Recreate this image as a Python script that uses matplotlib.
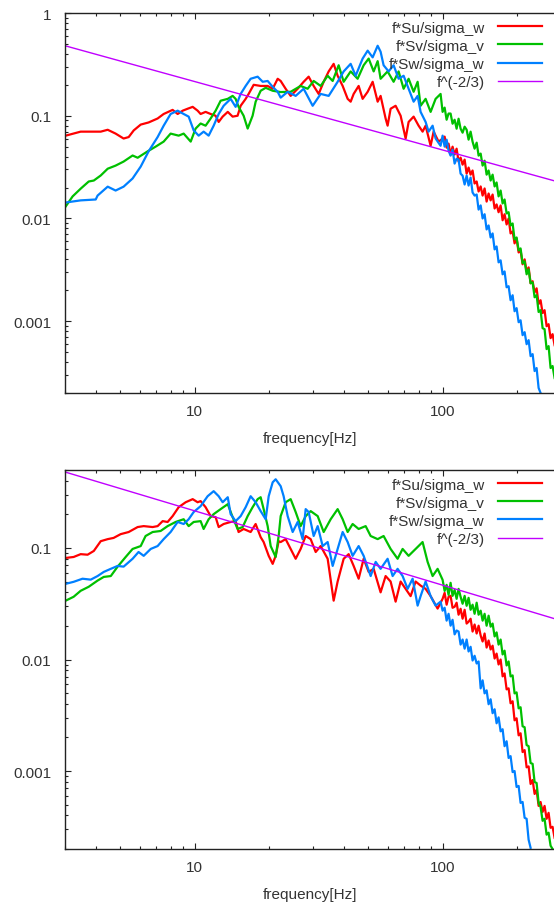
import matplotlib
matplotlib.use("Agg")
import matplotlib.pyplot as plt
from matplotlib.ticker import LogLocator, NullFormatter, FixedLocator, FixedFormatter

plt.rcParams['font.family'] = ['Liberation Sans', 'DejaVu Sans']

# ---------------- Top panel data (f < 100 Hz) ----------------
top_u_f = [3.02, 3.47, 3.92, 4.18, 4.46, 4.80, 5.17, 5.42, 5.68, 6.06, 6.52, 7.09, 7.50, 8.15, 8.54, 8.95,
           9.37, 9.82, 10.28, 10.57, 11.07, 11.60, 12.15, 12.50, 12.97, 13.60, 14.23, 14.90, 15.33, 16.06,
           16.51, 17.30, 18.46, 19.70, 20.64, 21.62, 22.23, 23.28, 24.39, 26.03, 27.52, 28.83, 30.20, 31.64,
           33.14, 34.72, 36.36, 37.73, 39.53, 41.41, 42.58, 43.78, 45.86, 47.59, 49.86, 52.23, 54.71, 56.23,
           58.91, 60.01, 61.71, 64.64, 67.72, 70.94, 72.94, 76.41, 80.03, 83.05, 85.41, 89.47, 92.0, 96.34]
top_u_v = [0.064, 0.070, 0.070, 0.070, 0.073, 0.067, 0.060, 0.062, 0.072, 0.082, 0.086, 0.094, 0.104, 0.114,
           0.104, 0.112, 0.117, 0.122, 0.112, 0.104, 0.109, 0.104, 0.100, 0.087, 0.098, 0.109, 0.098, 0.100,
           0.125, 0.146, 0.163, 0.200, 0.195, 0.195, 0.183, 0.229, 0.218, 0.183, 0.156, 0.183, 0.214, 0.240,
           0.195, 0.163, 0.214, 0.270, 0.320, 0.245, 0.195, 0.146, 0.137, 0.163, 0.195, 0.146, 0.171, 0.214,
           0.137, 0.156, 0.094, 0.080, 0.117, 0.125, 0.100, 0.060, 0.087, 0.098, 0.080, 0.070, 0.080, 0.051,
           0.070, 0.056]

top_v_f = [3.02, 3.22, 3.47, 3.74, 3.92, 4.18, 4.46, 4.80, 5.17, 5.62, 5.89, 6.46, 6.96, 7.50, 8.00, 8.62,
           9.03, 9.64, 10.09, 10.57, 11.07, 11.60, 12.15, 12.73, 13.60, 14.23, 14.63, 15.04, 15.76, 16.36,
           17.13, 17.62, 18.46, 19.34, 20.64, 22.23, 24.39, 26.76, 28.56, 30.20, 32.23, 34.39, 36.03, 38.09,
           39.90, 42.58, 45.43, 48.04, 50.33, 52.72, 54.71, 56.23, 60.01, 63.45, 66.47, 69.63, 72.94, 76.41,
           79.30, 81.53, 85.41, 89.47, 93.72, 98.15]
top_v_v = [0.0131, 0.0164, 0.0195, 0.0229, 0.0234, 0.0262, 0.0305, 0.0327, 0.0358, 0.041, 0.039, 0.045,
           0.050, 0.056, 0.067, 0.064, 0.067, 0.056, 0.075, 0.084, 0.080, 0.094, 0.112, 0.140, 0.146, 0.156,
           0.146, 0.122, 0.100, 0.075, 0.100, 0.137, 0.175, 0.187, 0.175, 0.170, 0.171, 0.195, 0.183, 0.218,
           0.195, 0.245, 0.218, 0.310, 0.214, 0.270, 0.229, 0.310, 0.360, 0.270, 0.340, 0.229, 0.270, 0.214,
           0.270, 0.183, 0.229, 0.171, 0.214, 0.125, 0.146, 0.109, 0.146, 0.163]

top_w_f = [3.02, 3.47, 3.99, 4.06, 4.46, 4.80, 5.17, 5.62, 6.06, 6.52, 7.09, 7.50, 8.00, 8.54, 9.03, 9.46,
           9.91, 10.38, 10.87, 11.39, 11.93, 12.50, 13.09, 13.97, 14.63, 15.33, 16.06, 16.82, 17.95, 18.81,
           19.70, 20.64, 21.62, 22.23, 23.72, 25.55, 27.52, 29.92, 32.23, 34.72, 37.73, 39.90, 42.58, 44.60,
           47.59, 49.86, 52.23, 54.71, 56.23, 57.82, 60.57, 63.45, 66.47, 69.63, 72.94, 76.41, 79.30, 81.53,
           85.41, 87.82, 91.14, 93.72, 98.15]
top_w_v = [0.0143, 0.0150, 0.0153, 0.0167, 0.0204, 0.0187, 0.0204, 0.0245, 0.032, 0.045, 0.062, 0.080,
           0.104, 0.112, 0.104, 0.098, 0.072, 0.064, 0.070, 0.064, 0.080, 0.104, 0.125, 0.146, 0.122, 0.163,
           0.195, 0.229, 0.240, 0.214, 0.218, 0.191, 0.171, 0.150, 0.171, 0.156, 0.183, 0.125, 0.163, 0.156,
           0.214, 0.270, 0.320, 0.245, 0.360, 0.430, 0.370, 0.480, 0.420, 0.310, 0.270, 0.310, 0.229, 0.245,
           0.183, 0.137, 0.156, 0.109, 0.087, 0.070, 0.080, 0.060, 0.051]

# ---------------- Bottom panel data (f < 100 Hz) ----------------
bot_u_f = [3.02, 3.25, 3.47, 3.70, 3.92, 4.18, 4.46, 4.71, 5.03, 5.42, 5.89, 6.23, 6.77, 7.09, 7.43, 7.78,
           8.15, 8.62, 9.20, 9.82, 10.28, 10.57, 11.07, 11.60, 12.15, 12.50, 13.09, 13.97, 14.63, 15.04, 15.76,
           16.82, 17.62, 18.46, 18.98, 19.89, 20.64, 21.22, 21.82, 22.23, 23.28, 24.39, 25.55, 26.76, 28.04,
           29.37, 30.77, 32.23, 34.39, 36.36, 37.73, 39.90, 41.80, 43.78, 45.86, 48.04, 50.33, 52.72, 56.23,
           58.91, 61.71, 64.64, 67.72, 70.94, 74.30, 77.84, 81.53, 85.41, 89.47, 95.47]
bot_u_v = [0.0814, 0.083, 0.088, 0.087, 0.094, 0.115, 0.120, 0.123, 0.133, 0.139, 0.154, 0.157, 0.154, 0.157,
           0.174, 0.171, 0.193, 0.232, 0.257, 0.274, 0.257, 0.263, 0.232, 0.193, 0.189, 0.154, 0.164, 0.171,
           0.174, 0.139, 0.148, 0.139, 0.164, 0.125, 0.113, 0.085, 0.072, 0.085, 0.115, 0.113, 0.120, 0.098,
           0.080, 0.098, 0.128, 0.120, 0.092, 0.104, 0.080, 0.0337, 0.050, 0.080, 0.088, 0.069, 0.053, 0.080,
           0.061, 0.065, 0.040, 0.056, 0.050, 0.033, 0.050, 0.043, 0.037, 0.050, 0.046, 0.043, 0.037, 0.0286]

bot_v_f = [3.02, 3.25, 3.47, 3.74, 4.06, 4.30, 4.59, 4.89, 5.27, 5.62, 6.06, 6.34, 6.77, 7.29, 7.78, 8.38,
           9.03, 9.46, 9.91, 10.57, 10.87, 11.39, 11.93, 12.73, 13.60, 14.23, 14.90, 15.62, 16.36, 17.13,
           17.95, 18.46, 18.98, 19.70, 20.26, 21.22, 21.82, 22.23, 23.28, 24.39, 25.55, 26.76, 28.04, 29.37,
           31.35, 33.14, 35.37, 37.73, 39.53, 41.41, 43.37, 45.86, 48.94, 51.27, 54.71, 57.82, 61.71, 65.85,
           68.98, 72.94, 77.84, 83.05, 87.01, 91.14, 95.47]
bot_v_v = [0.0337, 0.0365, 0.0413, 0.0449, 0.051, 0.055, 0.056, 0.068, 0.083, 0.098, 0.104, 0.128, 0.139,
           0.142, 0.157, 0.171, 0.181, 0.157, 0.171, 0.174, 0.148, 0.181, 0.201, 0.223, 0.247, 0.189, 0.148,
           0.154, 0.193, 0.232, 0.274, 0.285, 0.223, 0.157, 0.104, 0.083, 0.128, 0.193, 0.257, 0.274, 0.210,
           0.157, 0.193, 0.214, 0.193, 0.139, 0.181, 0.223, 0.181, 0.139, 0.164, 0.148, 0.157, 0.128, 0.120,
           0.128, 0.098, 0.080, 0.098, 0.085, 0.098, 0.113, 0.075, 0.056, 0.065]

bot_w_f = [3.02, 3.25, 3.53, 3.81, 4.06, 4.30, 4.59, 4.89, 5.17, 5.62, 5.94, 6.23, 6.65, 7.09, 7.50, 8.00,
           8.54, 9.03, 9.46, 9.91, 10.57, 11.28, 11.93, 12.50, 12.97, 13.60, 13.97, 14.63, 15.33, 16.06,
           16.82, 17.62, 18.46, 19.34, 19.89, 20.64, 21.22, 22.23, 22.85, 23.72, 24.85, 26.03, 27.26, 28.04,
           28.83, 30.20, 31.35, 32.83, 34.39, 36.03, 37.73, 39.53, 41.41, 43.37, 45.86, 48.04, 51.27, 53.71,
           56.23, 60.01, 62.87, 65.85, 68.98, 72.27, 75.69, 79.30, 81.53, 85.41, 89.47, 93.72, 98.15]
bot_w_v = [0.0477, 0.0497, 0.053, 0.052, 0.056, 0.061, 0.065, 0.069, 0.068, 0.080, 0.092, 0.085, 0.098,
           0.104, 0.120, 0.139, 0.171, 0.164, 0.181, 0.210, 0.237, 0.291, 0.323, 0.291, 0.257, 0.285, 0.201,
           0.174, 0.193, 0.232, 0.291, 0.257, 0.214, 0.181, 0.291, 0.388, 0.413, 0.358, 0.291, 0.193, 0.139,
           0.171, 0.120, 0.223, 0.210, 0.128, 0.157, 0.104, 0.113, 0.069, 0.098, 0.139, 0.113, 0.085, 0.104,
           0.085, 0.056, 0.075, 0.065, 0.080, 0.056, 0.065, 0.056, 0.043, 0.053, 0.0304, 0.037, 0.050, 0.037,
           0.0304, 0.033]

# ---------------- High-frequency part (f >= 100 Hz), dense readings ----------------
hf_freq = [100.0, 101.9, 103.8, 105.7, 107.7, 109.7, 111.8, 113.9, 116.0, 118.2, 120.4, 122.7, 125.0, 127.3,
           129.7, 132.1, 134.6, 137.2, 139.7, 142.4, 145.0, 147.7, 150.5, 153.3, 156.2, 159.1, 162.1, 165.1,
           168.2, 171.4, 174.6, 177.8, 181.2, 184.6, 188.0, 191.6, 195.1, 198.8, 202.6, 206.3, 210.2, 214.2,
           218.2, 222.3, 226.4, 230.7, 235.0, 239.4, 243.9, 248.4, 253.1, 257.8, 262.7, 267.6, 272.6, 277.7,
           282.9]

top_u_hf = [0.0598, 0.0626, 0.0489, 0.0535, 0.0419, 0.0500, 0.0419, 0.0478, 0.0358, 0.0391, 0.0334, 0.0374,
            0.0273, 0.0313, 0.0267, 0.0293, 0.0219, 0.0229, 0.0183, 0.0205, 0.0167, 0.0196, 0.0146, 0.0175,
            0.0150, 0.0171, 0.0125, 0.0137, 0.0115, 0.0134, 0.0096, 0.0110, 0.00874, 0.0100, 0.00715, 0.00748,
            0.00572, 0.00639, 0.00467, 0.00489, 0.00358, 0.00400, 0.00305, 0.00334, 0.00234, 0.00245, 0.00191,
            0.00209, 0.00147, 0.00160, 0.00120, 0.00128, 0.000894, 0.000935, 0.000684, 0.000748, 0.000584]
top_v_hf = [0.109, 0.120, 0.0914, 0.105, 0.105, 0.0836, 0.0914, 0.0748, 0.0935, 0.0748, 0.0684, 0.0782,
            0.0731, 0.0585, 0.0700, 0.0559, 0.0478, 0.0547, 0.0409, 0.0428, 0.0327, 0.0365, 0.0267, 0.0293,
            0.0234, 0.0267, 0.0205, 0.0224, 0.0164, 0.0187, 0.0140, 0.0153, 0.0112, 0.0115, 0.00855, 0.00894,
            0.00625, 0.00653, 0.00489, 0.00511, 0.00366, 0.00383, 0.00286, 0.00320, 0.00234, 0.00239, 0.00171,
            0.00179, 0.00123, 0.00128, 0.000855, 0.000836, 0.000535, 0.000572, 0.000350, 0.000366, 0.000280]
top_w_hf = [0.0640, 0.0500, 0.0585, 0.0457, 0.0409, 0.0467, 0.0342, 0.0382, 0.0374, 0.0273, 0.0261, 0.0214,
            0.0261, 0.0209, 0.0250, 0.0179, 0.0167, 0.0171, 0.0122, 0.0134, 0.0100, 0.0110, 0.00782, 0.00855,
            0.00653, 0.00715, 0.00500, 0.00534, 0.00374, 0.00391, 0.00286, 0.00305, 0.00214, 0.00219, 0.00160,
            0.00179, 0.00125, 0.00134, 0.000978, 0.00102, 0.000731, 0.000782, 0.000597, 0.000654, 0.000457,
            0.000478, 0.000327, 0.000350, 0.000224, 0.000200]

bot_u_hf = [0.0350, 0.0396, 0.0310, 0.0365, 0.0372, 0.0291, 0.0297, 0.0323, 0.0252, 0.0285, 0.0232, 0.0279,
            0.0210, 0.0218, 0.0232, 0.0178, 0.0206, 0.0171, 0.0201, 0.0164, 0.0145, 0.0171, 0.0128, 0.0148,
            0.0123, 0.0133, 0.0102, 0.0113, 0.00902, 0.0100, 0.00706, 0.00750, 0.00540, 0.00551, 0.00405,
            0.00422, 0.00285, 0.00297, 0.00209, 0.00218, 0.00148, 0.00154, 0.00108, 0.00110, 0.000765,
            0.000831, 0.000623, 0.000677, 0.000487, 0.000528, 0.000430, 0.000487, 0.000373, 0.000422,
            0.000310, 0.000316, 0.000252]
bot_v_hf = [0.0518, 0.0412, 0.0467, 0.0380, 0.0487, 0.0372, 0.0421, 0.0350, 0.0430, 0.0365, 0.0316, 0.0372,
            0.0303, 0.0357, 0.0279, 0.0310, 0.0257, 0.0323, 0.0252, 0.0274, 0.0223, 0.0257, 0.0201, 0.0247,
            0.0197, 0.0210, 0.0161, 0.0175, 0.0136, 0.0151, 0.0111, 0.0120, 0.00884, 0.00960, 0.00706, 0.00720,
            0.00497, 0.00507, 0.00365, 0.00373, 0.00252, 0.00247, 0.00171, 0.00167, 0.00118, 0.00116, 0.000797,
            0.000781, 0.000518, 0.000477, 0.000358, 0.000373, 0.000269, 0.000280, 0.000214, 0.000200]
bot_w_hf = [0.0274, 0.0291, 0.0223, 0.0257, 0.0201, 0.0227, 0.0168, 0.0182, 0.0178, 0.0136, 0.0151, 0.0125,
            0.0151, 0.0118, 0.0130, 0.00979, 0.0108, 0.00921, 0.00960, 0.00551, 0.00650, 0.00497, 0.00529,
            0.00397, 0.00440, 0.00330, 0.00358, 0.00268, 0.00303, 0.00227, 0.00237, 0.00167, 0.00185, 0.00131,
            0.00136, 0.000979, 0.00100, 0.000720, 0.000735, 0.000518, 0.000528, 0.000381, 0.000373, 0.000242,
            0.000205]

# reference line f^(-2/3): end points
ref_f = [3.0, 283.0]
ref_v = [0.48, 0.0232]

labels = ["f*Su/sigma_w", "f*Sv/sigma_v", "f*Sw/sigma_w", "f^(-2/3)"]
colors = ["#ff0000", "#00c000", "#0080ff", "#c000ff"]
x_ticks = [10, 100]
x_ticklabels = ["10", "100"]


def series(lf, lv, hv):
    return lf + hf_freq[:len(hv)], lv + hv


W, H = 554, 904
fig = plt.figure(figsize=(W / 100, H / 100), dpi=100)


def make_axes(top_px, bot_px):
    left = 65 / W
    right = 555 / W
    return fig.add_axes([left, 1 - bot_px / H, right - left, (bot_px - top_px) / H])


panels = [
    (make_axes(14, 394),
     series(top_u_f, top_u_v, top_u_hf), series(top_v_f, top_v_v, top_v_hf), series(top_w_f, top_w_v, top_w_hf),
     (2e-4, 1.0), [1, 0.1, 0.01, 0.001], ["1", "0.1", "0.01", "0.001"]),
    (make_axes(471, 850),
     series(bot_u_f, bot_u_v, bot_u_hf), series(bot_v_f, bot_v_v, bot_v_hf), series(bot_w_f, bot_w_v, bot_w_hf),
     (2e-4, 0.5), [0.1, 0.01, 0.001], ["0.1", "0.01", "0.001"]),
]

txt_color = "#333333"
fs = 11
for ax, su, sv, sw, ylim, yt, ytl in panels:
    ax.plot(su[0], su[1], color=colors[0], lw=1.6, label=labels[0])
    ax.plot(sv[0], sv[1], color=colors[1], lw=1.6, label=labels[1])
    ax.plot(sw[0], sw[1], color=colors[2], lw=1.6, label=labels[2])
    ax.plot(ref_f, ref_v, color=colors[3], lw=1.0, label=labels[3])
    ax.set_xscale("log")
    ax.set_yscale("log")
    ax.set_xlim(3.0, 284.0)
    ax.set_ylim(*ylim)
    ax.xaxis.set_major_locator(FixedLocator(x_ticks))
    ax.xaxis.set_major_formatter(FixedFormatter(x_ticklabels))
    ax.xaxis.set_minor_locator(LogLocator(base=10, subs=range(2, 10), numticks=20))
    ax.xaxis.set_minor_formatter(NullFormatter())
    ax.yaxis.set_major_locator(FixedLocator(yt))
    ax.yaxis.set_major_formatter(FixedFormatter(ytl))
    ax.yaxis.set_minor_locator(LogLocator(base=10, subs=range(2, 10), numticks=20))
    ax.yaxis.set_minor_formatter(NullFormatter())
    ax.tick_params(which="both", direction="in", top=True, right=False, colors="#222222",
                   labelcolor=txt_color, labelsize=fs)
    ax.tick_params(which="major", length=4, width=0.8)
    ax.tick_params(which="minor", length=2.5, width=0.8)
    ax.tick_params(axis="y", which="major", pad=10)
    ax.tick_params(axis="x", which="major", pad=8)
    for s in ["left", "top", "bottom"]:
        ax.spines[s].set_color("#222222")
        ax.spines[s].set_linewidth(1.0)
    ax.spines["right"].set_visible(False)
    ax.set_xlabel("frequency[Hz]", fontsize=fs, color=txt_color, labelpad=9)
    leg = ax.legend(loc="upper right", bbox_to_anchor=((542 - 65) / 490, 0.98), frameon=False,
                    markerfirst=False, handlelength=2.9, handletextpad=0.85, labelspacing=0.27,
                    borderpad=0, borderaxespad=0, fontsize=fs)
    for t in leg.get_texts():
        t.set_color(txt_color)

fig.savefig("out.png", dpi=100)
